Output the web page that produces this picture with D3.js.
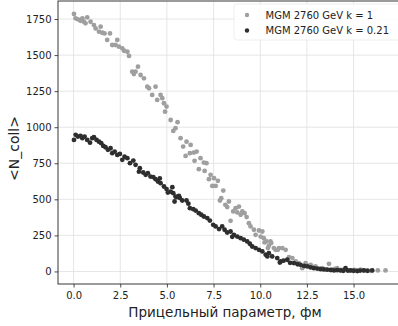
<!DOCTYPE html>
<html>
<head>
<meta charset="utf-8">
<script src="https://cdn.jsdelivr.net/npm/d3@7"></script>
<style>
  body { margin: 0; background: #fff; }
  svg text { font-family: "DejaVu Sans", sans-serif; }
</style>
</head>
<body>
<figure id="chart" style="margin:0"></figure>
<script>
// series k = 1
const kOneX = [0.02,0.11,0.23,0.37,0.47,0.55,0.64,0.73,0.91,1.09,1.18,1.36,1.45,1.54,1.66,1.80,1.95,2.07,2.25,2.34,2.43,2.61,2.70,2.88,2.97,3.14,3.23,3.32,3.45,3.59,3.77,3.95,4.04,4.21,4.39,4.48,4.66,4.75,4.84,4.90,4.98,5.20,5.34,5.46,5.57,5.73,5.87,6.00,6.05,6.23,6.27,6.44,6.48,6.59,6.71,6.80,6.98,7.02,7.12,7.25,7.34,7.43,7.52,7.61,7.73,7.84,7.91,8.02,8.13,8.23,8.32,8.41,8.55,8.68,8.77,8.86,8.95,9.04,9.16,9.27,9.39,9.48,9.66,9.75,9.93,10.02,10.11,10.19,10.23,10.34,10.41,10.46,10.55,10.59,10.73,10.82,10.94,11.00,11.18,11.36,11.54,11.72,11.90,12.07,12.25,12.43,12.60,12.70,12.85,12.96,13.15,13.32,13.50,13.68,13.86,14.00,14.12,14.30,14.48,14.65,14.84,15.05,15.20,15.37,15.55,15.73,15.95,16.30,16.71];
const kOneY = [1785,1755,1748,1738,1755,1731,1720,1762,1731,1708,1685,1662,1697,1655,1650,1605,1650,1570,1570,1605,1558,1547,1530,1523,1494,1385,1369,1385,1420,1362,1339,1281,1270,1224,1281,1189,1224,1201,1166,1108,1143,1050,974,993,1035,924,866,801,900,820,877,824,767,831,709,785,755,697,751,640,670,593,647,593,628,492,508,561,462,446,485,351,416,439,409,450,393,416,404,377,335,312,289,254,284,242,277,231,201,208,162,178,208,197,162,150,150,162,162,150,100,93,69,58,23,58,40,46,30,35,20,23,15,53,12,18,23,10,12,8,7,10,5,12,6,7,5,7,7];

// series k = 0.21
const kSmallX = [0.02,0.11,0.23,0.37,0.47,0.59,0.73,0.88,1.00,1.09,1.23,1.36,1.48,1.59,1.71,1.84,1.98,2.07,2.20,2.34,2.48,2.61,2.73,2.88,3.02,3.20,3.32,3.50,3.55,3.73,3.86,3.98,4.12,4.27,4.39,4.52,4.62,4.66,4.84,4.98,5.05,5.20,5.29,5.34,5.41,5.46,5.52,5.64,5.69,5.82,6.05,6.15,6.23,6.41,6.54,6.71,6.84,6.98,7.16,7.30,7.48,7.61,7.79,7.96,8.09,8.23,8.41,8.50,8.59,8.77,8.95,9.12,9.30,9.44,9.57,9.75,9.93,10.11,10.29,10.38,10.46,10.64,10.91,11.05,11.09,11.25,11.45,11.60,11.80,12.00,12.16,12.35,12.52,12.70,12.87,13.05,13.23,13.40,13.59,13.78,13.95,14.12,14.30,14.45,14.57,14.70,14.84,15.00,15.20,15.35,15.55,15.75,16.00];
const kSmallY = [912,947,935,940,924,935,912,893,924,931,912,900,889,870,861,843,854,820,831,808,815,774,796,785,751,769,739,692,716,686,670,681,658,654,640,623,645,612,589,571,547,554,584,543,485,519,515,524,510,492,492,470,439,432,422,404,393,381,370,353,323,312,294,312,289,270,277,240,254,242,231,220,208,192,173,162,150,139,116,104,127,104,93,62,69,75,81,60,58,50,46,38,35,28,23,20,16,14,12,10,7,9,7,5,23,6,7,5,3,6,7,4,7];

const xTicks = [0, 2.5, 5, 7.5, 10, 12.5, 15];
const yTicks = [0, 250, 500, 750, 1000, 1250, 1500, 1750];
const legendLabels = ["MGM 2760 GeV k = 1", "MGM 2760 GeV k = 0.21"];

const W = 398, H = 326;
const plotLeft = 58, plotTop = 1, plotRight = 401, plotBottom = 284;

const svg = d3.select("#chart").append("svg")
  .attr("width", W).attr("height", H);

const x = d3.scaleLinear().domain([-0.835, 17.54]).range([plotLeft, plotRight]);
const y = d3.scaleLinear().domain([-87, 1875]).range([plotBottom, plotTop]);

// grid
svg.append("g").selectAll("line").data(xTicks).enter().append("line")
  .attr("x1", d => x(d)).attr("x2", d => x(d))
  .attr("y1", plotTop).attr("y2", plotBottom)
  .attr("stroke", "#e0e0e0").attr("stroke-width", 0.8);
svg.append("g").selectAll("line").data(yTicks).enter().append("line")
  .attr("x1", plotLeft).attr("x2", plotRight)
  .attr("y1", d => y(d)).attr("y2", d => y(d))
  .attr("stroke", "#e0e0e0").attr("stroke-width", 0.8);

// points
const grey = kOneX.map((v, i) => [v, kOneY[i]]);
const dark = kSmallX.map((v, i) => [v, kSmallY[i]]);

svg.append("g").selectAll("circle").data(grey).enter().append("circle")
  .attr("cx", d => x(d[0])).attr("cy", d => y(d[1]))
  .attr("r", 2.4).attr("fill", "#9f9f9f");
svg.append("g").selectAll("circle").data(dark).enter().append("circle")
  .attr("cx", d => x(d[0])).attr("cy", d => y(d[1]))
  .attr("r", 2.4).attr("fill", "#2e2e2e");

// axes
const xAxis = svg.append("g")
  .attr("transform", "translate(0," + plotBottom + ")")
  .call(d3.axisBottom(x).tickValues(xTicks).tickFormat(d3.format(".1f")).tickSizeOuter(0).tickSize(3.5));
const yAxis = svg.append("g")
  .attr("transform", "translate(" + plotLeft + ",0)")
  .call(d3.axisLeft(y).tickValues(yTicks).tickFormat(d3.format("d")).tickSizeOuter(0).tickSize(3.5));
[xAxis, yAxis].forEach(g => {
  g.select(".domain").remove();
  g.selectAll("line").attr("stroke", "#222").attr("stroke-width", 0.8);
  g.selectAll("text").attr("fill", "#222").style("font-size", "10px").style("font-family", "DejaVu Sans");
});
xAxis.selectAll("text").attr("dy", "0.95em").attr("y", 5);
yAxis.selectAll("text").attr("x", -6.5);

// spines
svg.append("rect")
  .attr("x", plotLeft).attr("y", plotTop)
  .attr("width", plotRight - plotLeft).attr("height", plotBottom - plotTop)
  .attr("fill", "none").attr("stroke", "#222").attr("stroke-width", 0.9);

// legend
const lg = svg.append("g");
lg.append("rect")
  .attr("x", 234).attr("y", 4).attr("width", 200).attr("height", 36).attr("rx", 3)
  .attr("fill", "#fff").attr("fill-opacity", 0.85).attr("stroke", "#eee");
const colours = ["#9f9f9f", "#2e2e2e"];
legendLabels.forEach((t, i) => {
  lg.append("circle").attr("cx", 247).attr("cy", 15 + i * 15.5).attr("r", 2.2).attr("fill", colours[i]);
  lg.append("text").attr("x", 265.5).attr("y", 15 + i * 15.5).attr("dy", "0.36em")
    .style("font-size", "10px").attr("fill", "#222").text(t);
});

// labels
svg.append("text")
  .attr("x", (plotLeft + 398) / 2 - 3).attr("y", 317)
  .attr("text-anchor", "middle").style("font-size", "13.5px").attr("fill", "#222")
  .text("Прицельный параметр, фм");
svg.append("text")
  .attr("transform", "translate(19," + ((plotTop + plotBottom) / 2 + 6) + ") rotate(-90)")
  .attr("text-anchor", "middle").style("font-size", "14px").attr("fill", "#222")
  .text("<N_coll>");
</script>
</body>
</html>
